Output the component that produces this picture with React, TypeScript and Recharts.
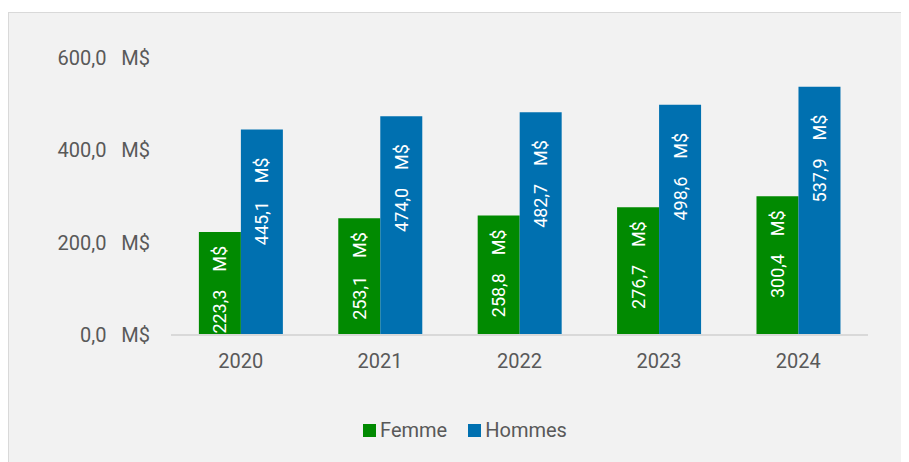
import React from 'react';
import { BarChart, Bar, XAxis, YAxis, Legend, LabelList } from 'recharts';

const years = ['2020', '2021', '2022', '2023', '2024'];
const femme = [223.3, 253.1, 258.8, 276.7, 300.4];
const hommes = [445.1, 474.0, 482.7, 498.6, 537.9];
const yTicks = [0, 200, 400, 600];

const data = years.map((y, i) => ({ year: y, Femme: femme[i], Hommes: hommes[i] }));

const GREEN = '#018A01';
const BLUE = '#0070B0';
const TEXT = '#595959';
const FONT = 'Roboto, "Noto Sans", sans-serif';

const fmt = (v: number) => v.toFixed(1).replace('.', ',');

const makeLabel = (offset: number) => (props: any) => {
  const { x, y, width, value } = props;
  const cx = Number(x) + Number(width) / 2;
  const ty = Number(y) + offset;
  return (
    <text
      x={cx}
      y={ty}
      transform={`rotate(-90, ${cx}, ${ty})`}
      textAnchor="end"
      dominantBaseline="central"
      fill="#ffffff"
      fontSize={18}
      fontFamily={FONT}
    >
      {fmt(Number(value)) + '\u00a0\u00a0\u00a0\u00a0M$'}
    </text>
  );
};

const LegendContent = () => (
  <div style={{ display: 'flex', justifyContent: 'center', alignItems: 'center', height: 24, fontFamily: FONT, fontSize: 20, color: TEXT }}>
    {[
      { name: 'Femme', color: GREEN },
      { name: 'Hommes', color: BLUE },
    ].map((it, i) => (
      <div key={it.name} style={{ display: 'flex', alignItems: 'center', marginLeft: i ? 21 : 0 }}>
        <div style={{ width: 13, height: 13, background: it.color, marginRight: 4 }} />
        <span>{it.name}</span>
      </div>
    ))}
  </div>
);

export default function App() {
  return (
    <div
      style={{
        marginTop: 4,
        width: 900,
        height: 449,
        background: '#f2f2f2',
        borderTop: '1px solid #d9d9d9',
        borderLeft: '1px solid #d9d9d9',
      }}
    >
      <BarChart
        width={900}
        height={449}
        data={data}
        margin={{ top: 45, right: 41, left: 0, bottom: 20 }}
        barCategoryGap="20%"
        barGap={0}
      >
        <YAxis
          domain={[0, 600]}
          ticks={yTicks}
          width={162}
          axisLine={false}
          tickLine={false}
          tickSize={0}
          tickMargin={21}
          tickFormatter={(v: number) => fmt(v) + '\u00a0\u00a0\u00a0M$'}
          tick={{ fill: TEXT, fontSize: 20, fontFamily: FONT }}
        />
        <XAxis
          dataKey="year"
          height={83}
          axisLine={{ stroke: '#d9d9d9', strokeWidth: 2 }}
          tickLine={false}
          tickSize={0}
          tickMargin={19}
          tick={{ fill: TEXT, fontSize: 20, fontFamily: FONT }}
        />
        <Legend verticalAlign="bottom" content={<LegendContent />} wrapperStyle={{ left: 6, width: 900 }} />
        <Bar dataKey="Femme" fill={GREEN} isAnimationActive={false}>
          <LabelList dataKey="Femme" content={makeLabel(14)} />
        </Bar>
        <Bar dataKey="Hommes" fill={BLUE} isAnimationActive={false}>
          <LabelList dataKey="Hommes" content={makeLabel(28)} />
        </Bar>
      </BarChart>
    </div>
  );
}
